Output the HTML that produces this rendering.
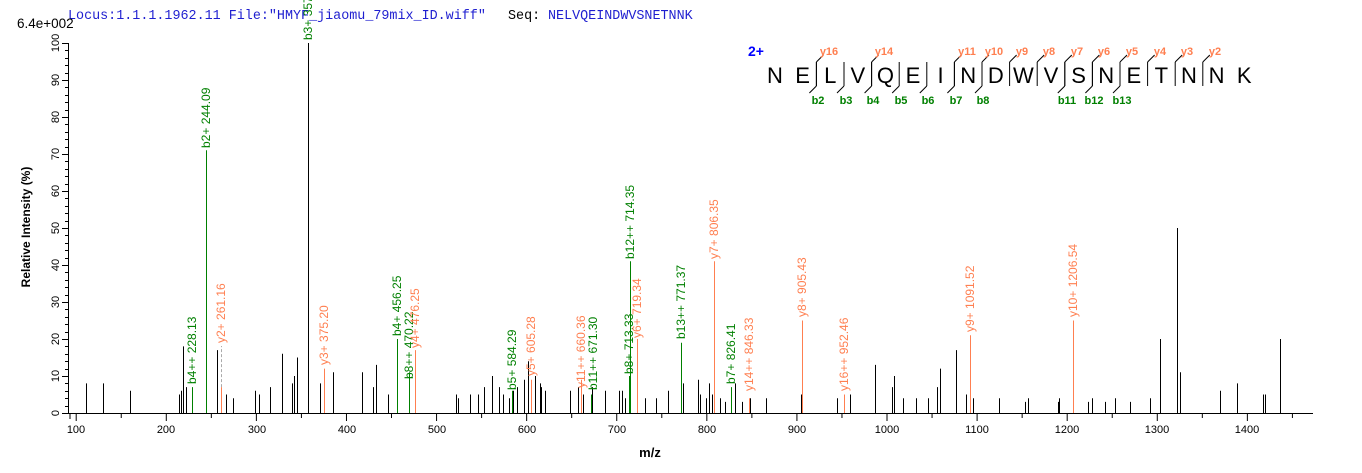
<!DOCTYPE html>
<html><head><meta charset="utf-8"><style>
html,body{margin:0;padding:0;background:#fff;}
svg{display:block;font-family:"Liberation Sans",Arial,sans-serif;}
</style></head><body>
<svg id="s" width="1362" height="473" viewBox="0 0 1362 473" xmlns="http://www.w3.org/2000/svg">
<g id="lines"></g>
<text x="68" y="19" font-family="Liberation Mono,monospace" font-size="13.4" fill="#1f1fd0">Locus:1.1.1.1962.11 File:"HMYF_jiaomu_79mix_ID.wiff"</text>
<text x="508" y="19" font-family="Liberation Mono,monospace" font-size="13.4" fill="#000">Seq:</text>
<text x="548" y="19" font-family="Liberation Mono,monospace" font-size="13.4" fill="#1f1fd0">NELVQEINDWVSNETNNK</text>
<text x="17" y="28" font-size="13.5" fill="#000">6.4e+002</text>
<text transform="translate(30,227) rotate(-90)" text-anchor="middle" font-size="12" font-weight="bold" fill="#000">Relative   Intensity (%)</text>
<text x="650" y="457" text-anchor="middle" font-size="13" font-weight="bold" fill="#000">m/z</text>
<g id="xlab" font-size="11" fill="#000" text-anchor="middle">
<text x="76" y="433">100</text><text x="166" y="433">200</text><text x="257" y="433">300</text><text x="347" y="433">400</text><text x="437" y="433">500</text><text x="527" y="433">600</text><text x="617" y="433">700</text><text x="707" y="433">800</text><text x="797" y="433">900</text><text x="887" y="433">1000</text><text x="977" y="433">1100</text><text x="1067" y="433">1200</text><text x="1157" y="433">1300</text><text x="1247" y="433">1400</text>
</g>
<g id="yl" font-size="11" fill="#000" text-anchor="middle">
<text transform="translate(59,413) rotate(-90)">0</text>
<text transform="translate(59,376) rotate(-90)">10</text>
<text transform="translate(59,339) rotate(-90)">20</text>
<text transform="translate(59,302) rotate(-90)">30</text>
<text transform="translate(59,265) rotate(-90)">40</text>
<text transform="translate(59,228) rotate(-90)">50</text>
<text transform="translate(59,191) rotate(-90)">60</text>
<text transform="translate(59,154) rotate(-90)">70</text>
<text transform="translate(59,117) rotate(-90)">80</text>
<text transform="translate(59,80) rotate(-90)">90</text>
<text transform="translate(59,43) rotate(-90)">100</text>
</g>
<g font-size="12">
<text transform="translate(196,384) rotate(-90)" fill="#008000">b4++ 228.13</text>
<text transform="translate(210,148) rotate(-90)" fill="#008000">b2+ 244.09</text>
<text transform="translate(312,40) rotate(-90)" fill="#008000">b3+ 357.19</text>
<text transform="translate(225,343) rotate(-90)" fill="#ff7f50">y2+ 261.16</text>
<text transform="translate(328,365) rotate(-90)" fill="#ff7f50">y3+ 375.20</text>
<text transform="translate(401,336) rotate(-90)" fill="#008000">b4+ 456.25</text>
<text transform="translate(413,379) rotate(-90)" fill="#008000">b8++ 470.22</text>
<text transform="translate(419,348) rotate(-90)" fill="#ff7f50">y4+ 476.25</text>
<text transform="translate(516,390) rotate(-90)" fill="#008000">b5+ 584.29</text>
<text transform="translate(535,376) rotate(-90)" fill="#ff7f50">y5+ 605.28</text>
<text transform="translate(585,388) rotate(-90)" fill="#ff7f50">y11++ 660.36</text>
<text transform="translate(597,390) rotate(-90)" fill="#008000">b11++ 671.30</text>
<text transform="translate(633,374) rotate(-90)" fill="#008000">b8+ 713.33</text>
<text transform="translate(634,259) rotate(-90)" fill="#008000">b12++ 714.35</text>
<text transform="translate(641,338) rotate(-90)" fill="#ff7f50">y6+ 719.34</text>
<text transform="translate(685,339) rotate(-90)" fill="#008000">b13++ 771.37</text>
<text transform="translate(718,259) rotate(-90)" fill="#ff7f50">y7+ 806.35</text>
<text transform="translate(735,384) rotate(-90)" fill="#008000">b7+ 826.41</text>
<text transform="translate(753,391) rotate(-90)" fill="#ff7f50">y14++ 846.33</text>
<text transform="translate(806,317) rotate(-90)" fill="#ff7f50">y8+ 905.43</text>
<text transform="translate(848,391) rotate(-90)" fill="#ff7f50">y16++ 952.46</text>
<text transform="translate(974,332) rotate(-90)" fill="#ff7f50">y9+ 1091.52</text>
<text transform="translate(1077,317) rotate(-90)" fill="#ff7f50">y10+ 1206.54</text>
</g>
<text x="748" y="56" font-size="14" font-weight="bold" fill="#0000ff">2+</text>
<g font-size="22" text-anchor="middle" fill="#000">
<text x="775" y="83">N</text><text x="802.6" y="83">E</text><text x="830.2" y="83">L</text><text x="857.8" y="83">V</text><text x="885.4" y="83">Q</text><text x="913" y="83">E</text><text x="940.6" y="83">I</text><text x="968.2" y="83">N</text><text x="995.8" y="83">D</text><text x="1023.4" y="83">W</text><text x="1051" y="83">V</text><text x="1078.6" y="83">S</text><text x="1106.2" y="83">N</text><text x="1133.8" y="83">E</text><text x="1161.4" y="83">T</text><text x="1189" y="83">N</text><text x="1216.6" y="83">N</text><text x="1244.2" y="83">K</text>
</g>
<g font-size="11" font-weight="bold" fill="#ff7f50" text-anchor="middle">
<text x="829" y="55">y16</text><text x="884" y="55">y14</text><text x="967" y="55">y11</text><text x="994" y="55">y10</text><text x="1022" y="55">y9</text><text x="1049" y="55">y8</text><text x="1077" y="55">y7</text><text x="1104" y="55">y6</text><text x="1132" y="55">y5</text><text x="1160" y="55">y4</text><text x="1187" y="55">y3</text><text x="1215" y="55">y2</text>
</g>
<g font-size="11" font-weight="bold" fill="#008000" text-anchor="middle">
<text x="818" y="104">b2</text><text x="846" y="104">b3</text><text x="873" y="104">b4</text><text x="901" y="104">b5</text><text x="928" y="104">b6</text><text x="956" y="104">b7</text><text x="983" y="104">b8</text><text x="1067" y="104">b11</text><text x="1094" y="104">b12</text><text x="1122" y="104">b13</text>
</g>
</svg>
<script>
var NS="http://www.w3.org/2000/svg",g=document.getElementById("lines");
function X(m){return 76.2+(m-100)*0.9009;}
function Y(p){return 413-3.70*p;}
function L(x1,y1,x2,y2,c,w,d){var l=document.createElementNS(NS,"line");l.setAttribute("x1",x1);l.setAttribute("y1",y1);l.setAttribute("x2",x2);l.setAttribute("y2",y2);l.setAttribute("stroke",c);l.setAttribute("stroke-width",w||1);if(d)l.setAttribute("stroke-dasharray",d);g.appendChild(l);}
var blk=[[86,8],[103,8],[130,6],[179,5],[181,6],[183,18],[186,7],[217,17],[226,5],[233,4],[255,6],[259,5],[270,7],[282,16],[292,8],[294,10],[297,15],[308,100],[320,8],[333,11],[362,11],[373,7],[376,13],[388,5],[456,5],[458,4],[470,5],[478,5],[484,7],[492,10],[499,7],[503,5],[509,4],[513,6],[517,7],[524,9],[528,14],[535,10],[540,8],[541,7],[545,6],[570,6],[578,7],[583,5],[592,7],[605,6],[619,6],[622,6],[625,4],[645,4],[656,4],[668,6],[683,8],[698,9],[700,5],[706,4],[709,8],[712,5],[720,4],[725,3],[735,8],[742,3],[750,4],[766,4],[801,5],[837,4],[850,5],[875,13],[892,7],[894,10],[903,4],[916,4],[928,4],[937,7],[940,12],[956,17],[966,5],[973,4],[999,4],[1025,3],[1028,4],[1058,3],[1059,4],[1088,3],[1092,4],[1105,3],[1115,4],[1130,3],[1150,4],[1160,20],[1177,50],[1180,11],[1220,6],[1237,8],[1263,5],[1265,5],[1280,20]];
blk.forEach(function(p){L(p[0]+.5,413,p[0]+.5,Y(p[1]),"#000");});
var grn=[[192,7],[206,71],[397,20],[409,11],[512,6],[591,5],[629,10],[630,41],[681,19],[731,7]];
grn.forEach(function(p){L(p[0]+.5,413,p[0]+.5,Y(p[1]),"#008000");});
var org=[[221,7],[324,12],[415,17],[531,9],[581,9],[637,20],[714,41],[749,4],[802,25],[844,5],[970,21],[1073,25]];
org.forEach(function(p){L(p[0]+.5,413,p[0]+.5,Y(p[1]),"#ff7f50");});
L(221.5,Y(7),221.5,346,"#aaa",1,"3,2");
L(68,413.5,1313,413.5,"#000");L(68.5,43,68.5,413,"#000");
for(var m=100;m<=1470;m+=50){var x=X(m);L(x,413,x,m%100==0?421:418,"#000");}
L(70,413,70,419,"#000");
for(var p=0;p<=100;p+=2){var y=Math.round(Y(p))+.5;L(p%10==0?62:65,y,68,y,"#000");}
function gx(k){return 788.8+27.6*(k-1);}
[2,4,7,8,9,10,11,12,13,14,15,16].forEach(function(k){var x=gx(k);L(x,62,x,86,"#000");L(x,62,x+7,55,"#000");});
[2,3,4,5,6,7,8,11,12,13].forEach(function(k){var x=gx(k);L(x,62,x,86,"#000");L(x,86,x-7,93,"#000");});
</script>
</body></html>
